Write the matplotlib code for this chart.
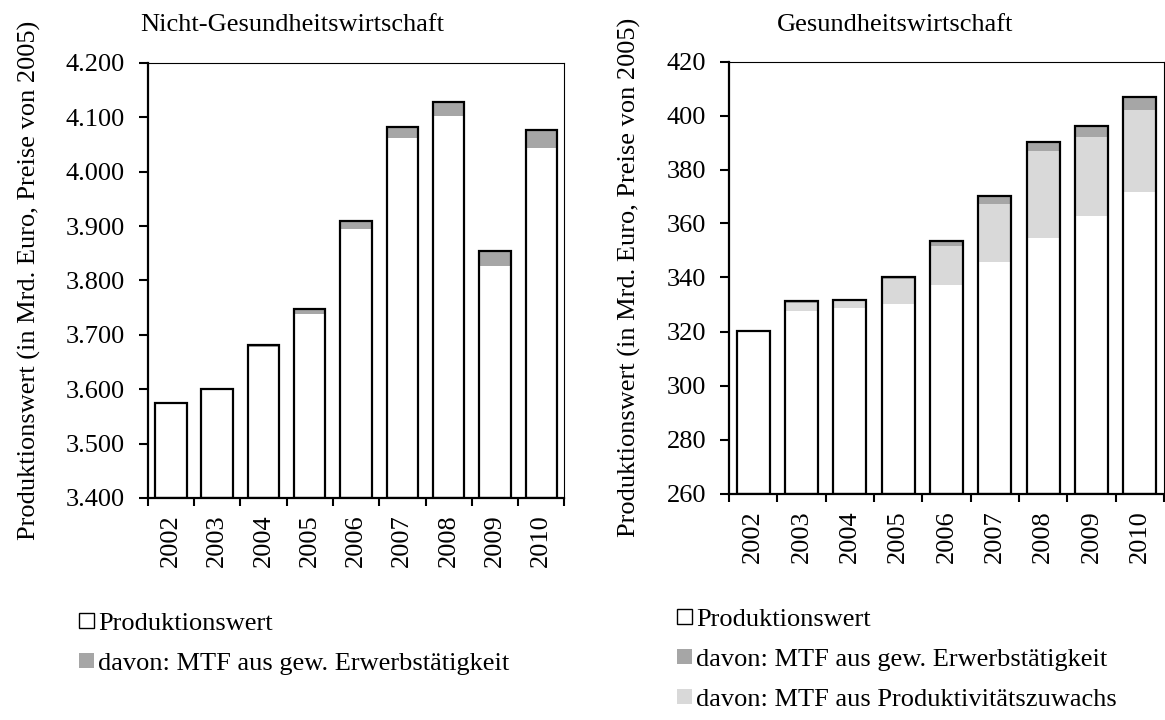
import numpy as np
import matplotlib
matplotlib.use("Agg")
import matplotlib.pyplot as plt
from matplotlib.patches import Patch

plt.rcParams["font.family"] = ["Liberation Serif", "DejaVu Serif"]

years = ["2002", "2003", "2004", "2005", "2006", "2007", "2008", "2009", "2010"]

# Nicht-Gesundheitswirtschaft (Mrd. Euro)
ngw_base = [3575, 3598, 3677, 3738, 3894, 4062, 4103, 3826, 4043]
ngw_erw = [0, 2, 4, 9, 16, 21, 26, 28, 33]

# Gesundheitswirtschaft (Mrd. Euro)
gw_base = [320.3, 327.7, 328.7, 330.3, 337.2, 345.7, 354.8, 362.8, 371.8]
gw_prod = [0.0, 3.0, 2.6, 9.2, 14.3, 21.6, 32.2, 29.2, 30.4]
gw_erw = [0.0, 0.6, 0.5, 0.8, 1.9, 2.9, 3.3, 4.0, 4.8]

c_erw = "#a6a6a6"
c_prod = "#d9d9d9"
fs = 19

fig = plt.figure(figsize=(11.65, 7.2), dpi=100)
ax1 = fig.add_axes([147.7 / 1165, 1 - 498 / 720, 416.7 / 1165, 435 / 720])
ax2 = fig.add_axes([729 / 1165, 1 - 493.5 / 720, 435 / 1165, 432 / 720])

x = np.arange(len(years))
w = 0.68


def style(ax, ylim, step, fmt):
    ax.set_xlim(-0.5, len(years) - 0.5)
    ax.set_ylim(*ylim)
    ax.set_yticks(np.arange(ylim[0], ylim[1] + step / 2, step))
    ax.set_yticklabels([fmt(v) for v in ax.get_yticks()], fontsize=fs)
    ax.set_xticks(x)
    ax.set_xticklabels(years, rotation=90, fontsize=fs)
    ax.set_xticks(np.arange(-0.5, len(years)), minor=True)
    ax.tick_params(axis="x", which="major", length=0, pad=12)
    ax.tick_params(axis="x", which="minor", length=6, width=1.5, direction="out")
    ax.tick_params(axis="y", length=6.5, width=1.5, direction="out", pad=10)
    for s in ["top", "right"]:
        ax.spines[s].set_linewidth(0.8)
    for s in ["left", "bottom"]:
        ax.spines[s].set_linewidth(1.6)
    ax.set_ylabel("Produktionswert (in Mrd. Euro, Preise von 2005)", fontsize=fs, labelpad=18)


# left chart
tot1 = np.array(ngw_base) + np.array(ngw_erw)
ax1.bar(x, ngw_base, w, color="white", linewidth=0)
ax1.bar(x, ngw_erw, w, bottom=ngw_base, color=c_erw, linewidth=0)
ax1.bar(x, tot1 - 3400, w, bottom=3400, fill=False, edgecolor="black", linewidth=1.6)
style(ax1, (3400, 4200), 100, lambda v: f"{v / 1000:.3f}")

# right chart
b = np.array(gw_base)
p = np.array(gw_prod)
e = np.array(gw_erw)
ax2.bar(x, b, w, color="white", linewidth=0)
ax2.bar(x, p, w, bottom=b, color=c_prod, linewidth=0)
ax2.bar(x, e, w, bottom=b + p, color=c_erw, linewidth=0)
ax2.bar(x, b + p + e - 260, w, bottom=260, fill=False, edgecolor="black", linewidth=1.6)
style(ax2, (260, 420), 20, lambda v: f"{v:.0f}")

fig.text(140 / 1165, 1 - 25 / 720, "Nicht-Gesundheitswirtschaft", fontsize=fs, ha="left", va="center")
fig.text(777 / 1165, 1 - 25 / 720, "Gesundheitswirtschaft", fontsize=fs, ha="left", va="center")

h_pw = Patch(facecolor="white", edgecolor="black", linewidth=1.0)
h_erw = Patch(facecolor=c_erw, edgecolor="none")
h_prod = Patch(facecolor=c_prod, edgecolor="none")

leg_kw = dict(frameon=False, fontsize=fs, handlelength=0.57, handleheight=0.5,
              handletextpad=0.15, labelspacing=0.68, borderaxespad=0, borderpad=0)
fig.legend([h_pw, h_erw], ["Produktionswert", "davon: MTF aus gew. Erwerbstätigkeit"],
           loc="upper left", bbox_to_anchor=(79 / 1165, 1 - 613 / 720), **leg_kw)
fig.legend([h_pw, h_erw, h_prod],
           ["Produktionswert", "davon: MTF aus gew. Erwerbstätigkeit",
            "davon: MTF aus Produktivitätszuwachs"],
           loc="upper left", bbox_to_anchor=(677 / 1165, 1 - 609 / 720), **leg_kw)

fig.savefig("out.png", dpi=100)
